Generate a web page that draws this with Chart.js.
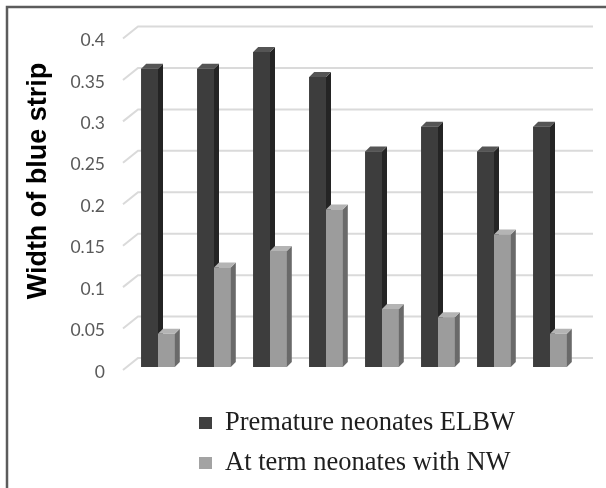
<!DOCTYPE html>
<html>
<head>
<meta charset="utf-8">
<script src="https://cdn.jsdelivr.net/npm/chart.js@4"></script>
<style>
  html, body { margin: 0; padding: 0; background: #fff; }
  #wrap { width: 606px; height: 488px; position: relative; }
</style>
</head>
<body>
<div id="wrap"><canvas id="stripChart"></canvas></div>
<script>
// values (8 groups, no category labels shown)
const groups = ['1', '2', '3', '4', '5', '6', '7', '8'];
const elbwWidths = [0.36, 0.36, 0.38, 0.35, 0.26, 0.29, 0.26, 0.29];
const termWidths = [0.04, 0.12, 0.14, 0.19, 0.07, 0.06, 0.16, 0.04];
const seriesNames = ['Premature neonates ELBW', 'At term neonates with NW'];
const yTickLabels = ['0', '0.05', '0.1', '0.15', '0.2', '0.25', '0.3', '0.35', '0.4'];
const yTitle = 'Width of blue strip';

// front / side / top shades for the fake 3D look
const shades = [
    { front: '#3d3d3d', side: '#242424', top: '#555555', legend: '#404040' },
    { front: '#9c9c9c', side: '#6a6a6a', top: '#b4b4b4', legend: '#a3a3a3' }
];
const DEPTH = 5;

// white page with the grey frame on the left and top
const framePlugin = {
    id: 'frame',
    beforeDraw(chart) {
        const ctx = chart.ctx;
        ctx.save();
        ctx.fillStyle = '#fff';
        ctx.fillRect(0, 0, chart.width, chart.height);
        ctx.strokeStyle = '#5c5c5c';
        ctx.lineWidth = 2.5;
        ctx.beginPath();
        ctx.moveTo(7, chart.height);
        ctx.lineTo(7, 7);
        ctx.lineTo(chart.width, 7);
        ctx.stroke();
        ctx.restore();
    }
};

// back wall gridlines with the little slanted side wall bit
const wallPlugin = {
    id: 'wall',
    beforeDatasetsDraw(chart) {
        const ctx = chart.ctx;
        const yScale = chart.scales.y;
        const left = chart.chartArea.left;
        ctx.save();
        ctx.strokeStyle = '#dadada';
        ctx.lineWidth = 2;
        yScale.ticks.forEach(t => {
            const y = yScale.getPixelForValue(t.value);
            ctx.beginPath();
            ctx.moveTo(left - 7, y + 3);
            ctx.lineTo(left + 8, y - 9);
            ctx.lineTo(chart.width - 13, y - 9);
            ctx.stroke();
        });
        ctx.restore();
    }
};

// side and top faces, redrawn per dataset so the right bar covers the left one's side
const bar3dPlugin = {
    id: 'bar3d',
    afterDatasetsDraw(chart) {
        const ctx = chart.ctx;
        ctx.save();
        chart.data.datasets.forEach((ds, i) => {
            const meta = chart.getDatasetMeta(i);
            const sh = shades[i];
            meta.data.forEach(bar => {
                const p = bar.getProps(['x', 'y', 'base', 'width'], true);
                const l = p.x - p.width / 2;
                const r = p.x + p.width / 2;
                bar.draw(ctx);
                ctx.fillStyle = sh.side;
                ctx.beginPath();
                ctx.moveTo(r, p.y);
                ctx.lineTo(r + DEPTH, p.y - DEPTH);
                ctx.lineTo(r + DEPTH, p.base - DEPTH);
                ctx.lineTo(r, p.base);
                ctx.closePath();
                ctx.fill();
                ctx.fillStyle = sh.top;
                ctx.beginPath();
                ctx.moveTo(l, p.y);
                ctx.lineTo(l + DEPTH, p.y - DEPTH);
                ctx.lineTo(r + DEPTH, p.y - DEPTH);
                ctx.lineTo(r, p.y);
                ctx.closePath();
                ctx.fill();
            });
        });
        ctx.restore();
    }
};

// y title sits a bit above the plot's middle, so draw it by hand
const yTitlePlugin = {
    id: 'yTitle',
    afterDraw(chart) {
        const ctx = chart.ctx;
        ctx.save();
        ctx.translate(39, 181);
        ctx.rotate(-Math.PI / 2);
        ctx.font = 'bold 27px "Liberation Sans", Arial, sans-serif';
        ctx.fillStyle = '#000';
        ctx.textAlign = 'center';
        ctx.textBaseline = 'middle';
        ctx.fillText(yTitle, 0, 0);
        ctx.restore();
    }
};

// stacked legend under the plot
const legendPlugin = {
    id: 'stackLegend',
    afterDraw(chart) {
        const ctx = chart.ctx;
        ctx.save();
        ctx.font = '26.5px "Liberation Serif", "Times New Roman", serif';
        ctx.textBaseline = 'middle';
        chart.data.datasets.forEach((ds, i) => {
            const cy = 423 + i * 40;
            ctx.fillStyle = shades[i].legend;
            ctx.fillRect(199, cy - 6, 13, 12);
            ctx.fillStyle = '#1e1e1e';
            ctx.fillText(ds.label, 225, cy);
        });
        ctx.restore();
    }
};

new Chart(document.getElementById('stripChart'), {
    type: 'bar',
    data: {
        labels: groups,
        datasets: [
            { label: seriesNames[0], data: elbwWidths, backgroundColor: shades[0].front },
            { label: seriesNames[1], data: termWidths, backgroundColor: shades[1].front }
        ]
    },
    options: {
        responsive: true,
        maintainAspectRatio: false,
        animation: false,
        layout: { padding: { left: 20, right: 28, top: 31, bottom: 121 } },
        datasets: { bar: { categoryPercentage: 0.6, barPercentage: 1 } },
        plugins: {
            legend: { display: false },
            tooltip: { enabled: false }
        },
        scales: {
            x: { display: false },
            y: {
                min: 0,
                max: 0.4,
                ticks: {
                    stepSize: 0.05,
                    padding: 25,
                    labelOffset: 5,
                    color: '#595959',
                    font: { family: 'Lato', size: 17.5 },
                    callback: (v, i) => yTickLabels[i]
                },
                grid: { display: false, drawTicks: false },
                border: { display: false },
                afterFit: s => { s.width = 110; }
            }
        }
    },
    plugins: [framePlugin, wallPlugin, bar3dPlugin, yTitlePlugin, legendPlugin]
});
</script>
</body>
</html>
